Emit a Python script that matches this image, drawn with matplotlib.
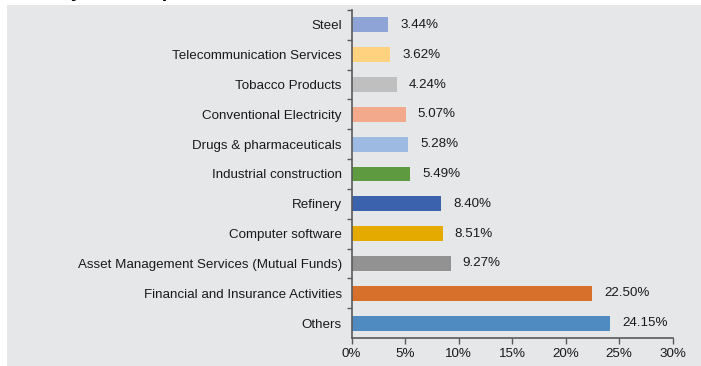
import matplotlib
matplotlib.use("Agg")
import matplotlib.pyplot as plt
from matplotlib.patches import Rectangle
from matplotlib.ticker import FixedLocator, PercentFormatter

plt.rcParams["font.family"] = ["Liberation Sans", "DejaVu Sans"]

categories = [
    "Steel",
    "Telecommunication Services",
    "Tobacco Products",
    "Conventional Electricity",
    "Drugs & pharmaceuticals",
    "Industrial construction",
    "Refinery",
    "Computer software",
    "Asset Management Services (Mutual Funds)",
    "Financial and Insurance Activities",
    "Others",
]
values = [3.44, 3.62, 4.24, 5.07, 5.28, 5.49, 8.40, 8.51, 9.27, 22.50, 24.15]
colors = [
    "#8EA4D6", "#FFD27F", "#BFBFBF", "#F3A98C", "#9DBBE2", "#5E9A3F",
    "#3B62AC", "#E5AA00", "#929292", "#D7702B", "#4F8BC0",
]
x_ticks = [0, 5, 10, 15, 20, 25, 30]
title = "Industry-wise Exposure"

W, H = 701, 366
fig = plt.figure(figsize=(W / 100, H / 100), dpi=100, facecolor="white")

# grey panel behind the chart
fig.patches.append(Rectangle((7 / W, 0), 1 - 7 / W, 1 - 5 / H,
                             transform=fig.transFigure, facecolor="#E6E7E9",
                             edgecolor="none", zorder=-10))

# heading sits above the panel, mostly beyond the top edge
fig.text(3 / W, 1 + 3.2 / H, title, fontsize=14.4, fontweight="bold",
         ha="left", va="baseline", color="black", zorder=5)

ax_left, ax_right = 351.5 / W, 672.5 / W
ax_top, ax_bottom = 1 - 10 / H, 1 - 338 / H
ax = fig.add_axes([ax_left, ax_bottom, ax_right - ax_left, ax_top - ax_bottom])
ax.set_facecolor("none")
ax.set_zorder(2)

pos = list(range(len(categories)))[::-1]
ax.barh(pos, values, height=0.5, color=colors, zorder=2)

for p, v in zip(pos, values):
    ax.annotate(f"{v:.2f}%", xy=(v, p), xytext=(12, 0),
                textcoords="offset pixels", ha="left", va="center",
                fontsize=9.6, color="#1a1a1a")

ax.set_xlim(0, 30)
ax.set_ylim(-0.5, len(categories) - 0.5)

ax.xaxis.set_major_locator(FixedLocator(x_ticks))
ax.xaxis.set_major_formatter(PercentFormatter(decimals=0))

ax.set_yticks(pos)
ax.set_yticklabels(categories)
ax.yaxis.set_minor_locator(FixedLocator([p + 0.5 for p in range(len(categories))]))

ax.tick_params(axis="y", which="major", length=0, pad=7, labelsize=9.6,
               labelcolor="#1a1a1a")
ax.tick_params(axis="y", which="minor", length=3.5, width=1, color="#5a5a5a",
               direction="out")
ax.tick_params(axis="x", which="major", length=4, width=1, color="#5a5a5a",
               direction="out", pad=3, labelsize=9.6, labelcolor="#1a1a1a")

for side in ("top", "right"):
    ax.spines[side].set_visible(False)
for side in ("left", "bottom"):
    ax.spines[side].set_color("#5a5a5a")
    ax.spines[side].set_linewidth(1.2)

fig.savefig("out.png", dpi=100, facecolor="white")
